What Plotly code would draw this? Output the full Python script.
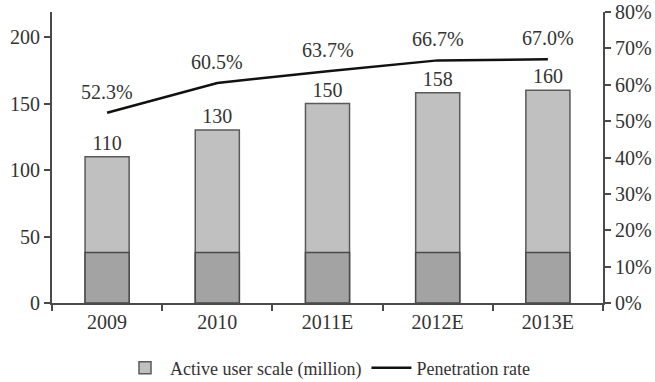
import plotly.graph_objects as go

categories = ["2009", "2010", "2011E", "2012E", "2013E"]
active_users = [110, 130, 150, 158, 160]
penetration = [0.523, 0.605, 0.637, 0.667, 0.670]
penetration_labels = ["52.3%", "60.5%", "63.7%", "66.7%", "67.0%"]
scan_band = [38, 38, 38, 38, 38]  # darker lower band visible in the scanned original

FONT = "Liberation Serif, Times New Roman, serif"
TXT = "#333333"
AX = "#4a4a4a"

fig = go.Figure()

fig.add_trace(go.Bar(
    x=categories, y=active_users, name="Active user scale (million)",
    marker=dict(color="#c0c0c0", line=dict(color="#5a5a5a", width=1.5)),
    width=0.4, text=[str(v) for v in active_users], textposition="outside",
    textfont=dict(family=FONT, size=20, color=TXT), cliponaxis=False,
    yaxis="y",
))
fig.add_trace(go.Bar(
    x=categories, y=scan_band, showlegend=False, hoverinfo="skip",
    marker=dict(color="#a3a3a3", line=dict(color="#4a4a4a", width=1.5)),
    width=0.4, yaxis="y",
))
fig.add_trace(go.Scatter(
    x=categories, y=penetration, name="Penetration rate", mode="lines",
    line=dict(color="#111111", width=2.5), yaxis="y2",
))

# category axis: position annotations by category index
for i, (p, lab) in enumerate(zip(penetration, penetration_labels)):
    fig.add_annotation(x=i, y=p, xref="x", yref="y2", text=lab, showarrow=False,
                       yshift=21, font=dict(family=FONT, size=20, color=TXT))

fig.update_layout(
    width=655, height=382,
    margin=dict(l=52, r=52, t=12, b=79, autoexpand=False),
    paper_bgcolor="white", plot_bgcolor="white",
    barmode="overlay",
    font=dict(family=FONT, size=20, color=TXT),
    showlegend=True,
    legend=dict(orientation="h", x=0.5, xanchor="center", y=-0.16, yanchor="top",
                font=dict(family=FONT, size=18, color=TXT), itemwidth=40,
                traceorder="normal"),
    xaxis=dict(type="category", range=[-0.5, 4.5], showline=True, linecolor=AX, linewidth=2,
               ticks="outside", tickson="boundaries", ticklen=6, tickcolor=AX, tickwidth=2,
               showgrid=False, tickangle=0,
               tickfont=dict(family=FONT, size=20, color=TXT)),
    yaxis=dict(range=[0, 218.8], dtick=50, showline=True, linecolor=AX, linewidth=2,
               ticks="outside", ticklen=6, tickcolor=AX, tickwidth=2,
               showgrid=False, zeroline=False,
               tickfont=dict(family=FONT, size=20, color=TXT)),
    yaxis2=dict(range=[0, 0.8], dtick=0.1, tickformat=".0%", overlaying="y", side="right",
                showline=True, linecolor=AX, linewidth=2, ticks="outside", ticklen=6,
                tickcolor=AX, tickwidth=2, showgrid=False, zeroline=False,
                tickfont=dict(family=FONT, size=20, color=TXT)),
)

fig.write_html("out.html")
